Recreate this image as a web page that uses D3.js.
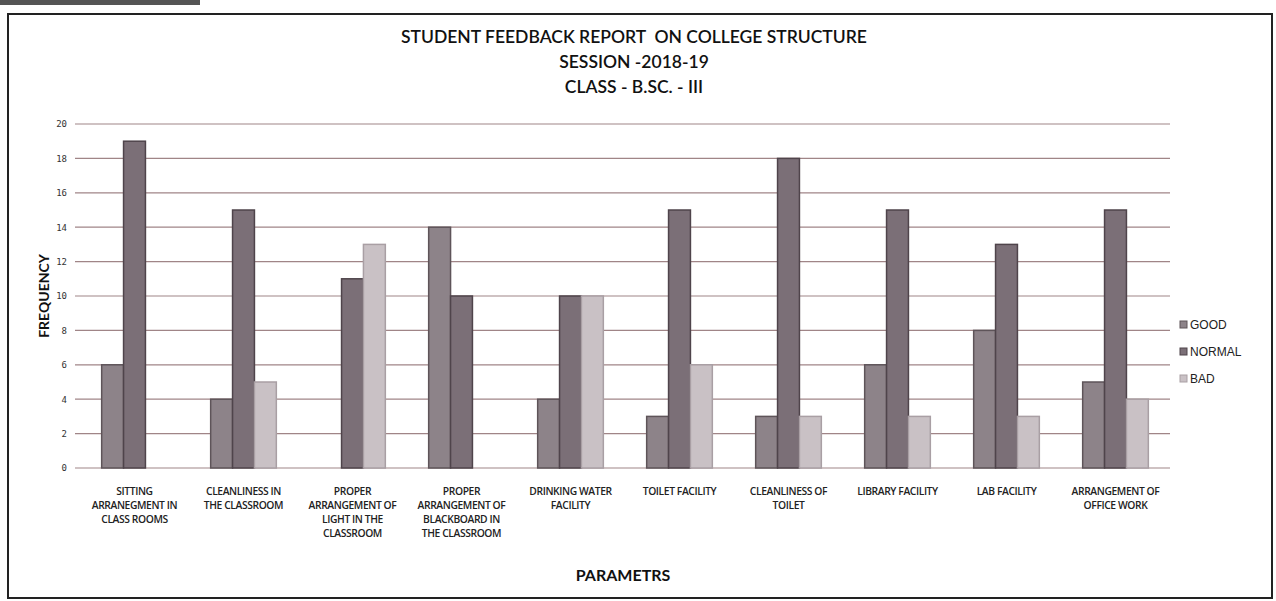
<!DOCTYPE html>
<html>
<head>
<meta charset="utf-8">
<script src="https://cdn.jsdelivr.net/npm/d3@7"></script>
<style>
  html, body { margin: 0; padding: 0; background: #fff; }
  svg { display: block; font-family: Lato, "Open Sans", sans-serif; }
</style>
</head>
<body>
<svg id="chart" width="1276" height="601"></svg>
<script>
// category tick labels (already broken into lines as in the original)
var categories = [
  ['SITTING', 'ARRANEGMENT IN', 'CLASS ROOMS'],
  ['CLEANLINESS IN', 'THE CLASSROOM'],
  ['PROPER', 'ARRANGEMENT OF', 'LIGHT IN THE', 'CLASSROOM'],
  ['PROPER', 'ARRANGEMENT OF', 'BLACKBOARD IN', 'THE CLASSROOM'],
  ['DRINKING WATER', 'FACILITY'],
  ['TOILET FACILITY'],
  ['CLEANLINESS OF', 'TOILET'],
  ['LIBRARY FACILITY'],
  ['LAB FACILITY'],
  ['ARRANGEMENT OF', 'OFFICE WORK']
];
var seriesNames = ['GOOD', 'NORMAL', 'BAD'];
var good   = [6, 4, 0, 14, 4, 3, 3, 6, 8, 5];
var normal = [19, 15, 11, 10, 10, 15, 18, 15, 13, 15];
var bad    = [0, 5, 13, 0, 10, 6, 3, 3, 3, 4];
var yTicks = [0, 2, 4, 6, 8, 10, 12, 14, 16, 18, 20];
var titleLines = ['STUDENT FEEDBACK REPORT  ON COLLEGE STRUCTURE', 'SESSION -2018-19', 'CLASS - B.SC. - III'];

var fills = { GOOD: '#8d8389', NORMAL: '#7b6f77', BAD: '#c9c1c5' };
var strokes = { GOOD: '#5e5459', NORMAL: '#4f444b', BAD: '#a99fa4' };

var svg = d3.select('#chart');
var L = 80, R = 1170, T = 124, B = 468;

// scan strip + frame
svg.append('rect').attr('x', 0).attr('y', 0).attr('width', 200).attr('height', 5).attr('fill', '#555');
svg.append('rect').attr('x', 8).attr('y', 14).attr('width', 1264).attr('height', 584)
  .attr('fill', 'none').attr('stroke', '#222').attr('stroke-width', 2);

svg.selectAll('text.title').data(titleLines).enter().append('text').attr('class', 'title')
  .attr('x', 634).attr('y', function(d, i) { return 43 + i * 25; })
  .attr('text-anchor', 'middle').attr('font-size', '17.5px').attr('font-weight', 600).attr('fill', '#111')
  .style('white-space', 'pre')
  .text(function(d) { return d; });

var x0 = d3.scaleBand().domain(d3.range(categories.length)).range([L, R]).paddingInner(0).paddingOuter(0);
var x1 = d3.scaleBand().domain(seriesNames).range([0, x0.bandwidth()]).paddingInner(0).paddingOuter(0.99);
var y = d3.scaleLinear().domain([0, 20]).range([B, T]);

// gridlines
svg.append('g').selectAll('line').data(yTicks).enter().append('line')
  .attr('x1', L - 5).attr('x2', R).attr('y1', function(d) { return y(d); }).attr('y2', function(d) { return y(d); })
  .attr('stroke', '#a08587').attr('stroke-width', 1.2);

var yAxis = svg.append('g').attr('transform', 'translate(' + (L - 5) + ',0)')
  .call(d3.axisLeft(y).tickValues(yTicks).tickSize(0).tickPadding(8));
yAxis.select('.domain').remove();
yAxis.selectAll('text').attr('font-size', '9px').attr('fill', '#333').attr('font-family', 'DejaVu Sans Mono, monospace');

var rows = categories.map(function(c, i) {
  return { i: i, vals: [good[i], normal[i], bad[i]] };
});

var groups = svg.append('g').selectAll('g').data(rows).enter().append('g')
  .attr('transform', function(d) { return 'translate(' + x0(d.i) + ',0)'; });
groups.selectAll('rect').data(function(d) {
  return seriesNames.map(function(s, k) { return { s: s, v: d.vals[k] }; }).filter(function(e) { return e.v > 0; });
}).enter().append('rect')
  .attr('x', function(d) { return x1(d.s); })
  .attr('width', x1.bandwidth())
  .attr('y', function(d) { return y(d.v); })
  .attr('height', function(d) { return y(0) - y(d.v); })
  .attr('fill', function(d) { return fills[d.s]; })
  .attr('stroke', function(d) { return strokes[d.s]; })
  .attr('stroke-width', 1.5);

// category labels
var lab = svg.append('g').selectAll('text').data(categories).enter().append('text')
  .attr('text-anchor', 'middle').attr('font-size', '10.3px').attr('fill', '#222')
  .attr('font-family', '"Open Sans", sans-serif').attr('font-weight', 600)
  .attr('x', function(d, i) { return x0(i) + x0.bandwidth() / 2; });
lab.selectAll('tspan').data(function(d, i) { return d.map(function(t) { return { t: t, i: i }; }); })
  .enter().append('tspan')
  .attr('x', function(d) { return x0(d.i) + x0.bandwidth() / 2; })
  .attr('y', function(d, k) { return 495 + k * 14; })
  .attr('letter-spacing', '-0.4px')
  .text(function(d) { return d.t; });

svg.append('text').attr('transform', 'translate(49,296) rotate(-90)').attr('text-anchor', 'middle')
  .attr('font-size', '14px').attr('font-weight', 700).attr('fill', '#111').text('FREQUENCY');
svg.append('text').attr('x', 623).attr('y', 581).attr('text-anchor', 'middle')
  .attr('font-size', '16px').attr('font-weight', 700).attr('fill', '#111').text('PARAMETRS');

var leg = svg.append('g').selectAll('g').data(seriesNames).enter().append('g')
  .attr('transform', function(d, i) { return 'translate(1180,' + (325 + i * 27) + ')'; });
leg.append('rect').attr('x', 0).attr('y', -4).attr('width', 7).attr('height', 7)
  .attr('fill', function(d) { return fills[d]; }).attr('stroke', function(d) { return strokes[d]; });
leg.append('text').attr('x', 10).attr('y', 4).attr('font-size', '12px').attr('fill', '#222')
  .attr('font-family', '"Liberation Sans", sans-serif').text(function(d) { return d; });
</script>
</body>
</html>
